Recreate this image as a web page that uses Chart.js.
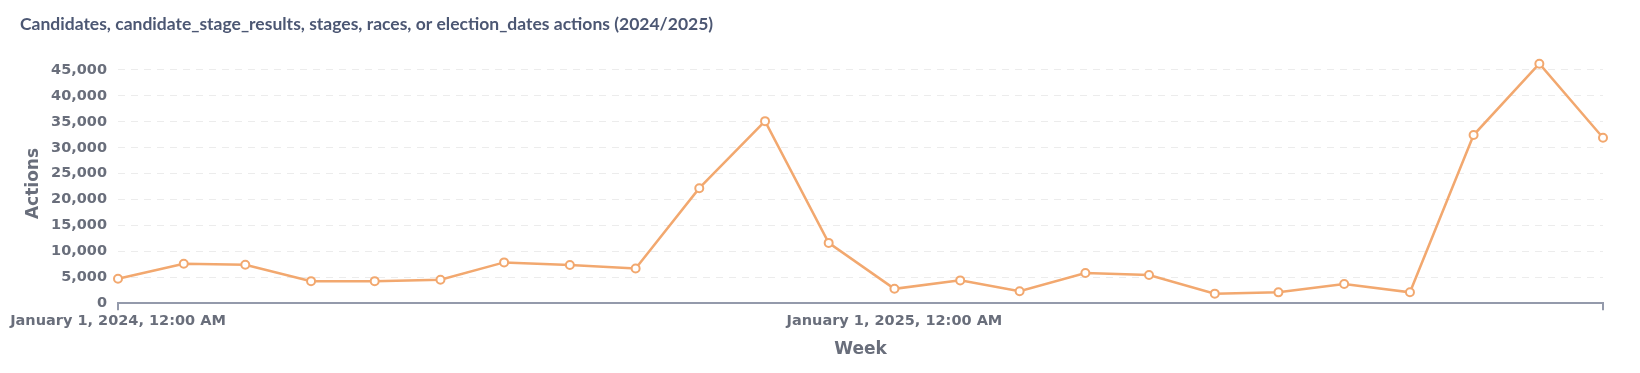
<!DOCTYPE html>
<html>
<head>
<meta charset="utf-8">
<script src="https://cdn.jsdelivr.net/npm/chart.js@4.4.1/dist/chart.umd.min.js"></script>
<style>
  html, body { margin: 0; padding: 0; background: #fff; }
  #wrap { width: 1640px; height: 373px; position: relative; }
</style>
</head>
<body>
<div id="wrap"><canvas id="chart"></canvas></div>
<script>
// one point per month, first of the month
const weeks = [
  '2024-01-01', '2024-02-01', '2024-03-01', '2024-04-01', '2024-05-01', '2024-06-01',
  '2024-07-01', '2024-08-01', '2024-09-01', '2024-10-01', '2024-11-01', '2024-12-01',
  '2025-01-01', '2025-02-01', '2025-03-01', '2025-04-01', '2025-05-01', '2025-06-01',
  '2025-07-01', '2025-08-01', '2025-09-01', '2025-10-01', '2025-11-01', '2025-12-01'
]
const actions = [
  4720, 7630, 7440, 4270, 4270, 4530,
  7890, 7380, 6700, 22200, 35130, 11650,
  2790, 4420, 2310, 5830, 5450, 1860,
  2110, 3720, 2120, 32450, 46210, 31940
]
const tickDates = ['2024-01-01', '2025-01-01']
const tickLabels = ['January 1, 2024, 12:00 AM', 'January 1, 2025, 12:00 AM']
const yTicks = [0, 5000, 10000, 15000, 20000, 25000, 30000, 35000, 40000, 45000]

const toTime = (d) => Date.parse(d + 'T00:00:00Z')
const xs = weeks.map(toTime)
const tickTimes = tickDates.map(toTime)

const axisColor = '#949AAB'
const textColor = '#696E7B'
const tickFont = {family: 'DejaVu Sans', weight: 'bold', size: 14.5}
const axisTitleFont = {family: 'DejaVu Sans', weight: 'bold', size: 17}

const ctx = document.getElementById('chart').getContext('2d')

new Chart(ctx, {
    type: 'line',
    data: {
        datasets: [
            {
                label: 'Actions',
                data: xs.map((x, i) => ({x: x, y: actions[i]})),
                borderColor: '#F2A86F',
                backgroundColor: '#ffffff',
                borderWidth: 2.5,
                pointRadius: 4,
                pointBorderWidth: 2,
                pointBackgroundColor: '#ffffff',
                pointBorderColor: '#F2A86F',
                tension: 0,
                clip: false
            }
        ]
    },
    options: {
        responsive: true,
        maintainAspectRatio: false,
        animation: false,
        layout: {padding: {left: 20, right: 37, top: 0, bottom: 0}},
        plugins: {
            legend: {display: false},
            tooltip: {enabled: false},
            title: {
                display: true,
                text: 'Candidates, candidate_stage_results, stages, races, or election_dates actions (2024/2025)',
                align: 'start',
                color: '#4C5773',
                font: {family: 'Lato', weight: 'bold', size: 17.5},
                padding: {top: 14, bottom: 28.7}
            }
        },
        scales: {
            x: {
                type: 'linear',
                min: xs[0],
                max: xs[xs.length - 1],
                afterBuildTicks: (scale) => {
                    scale.ticks = tickTimes.map(v => ({value: v})).concat([{value: xs[xs.length - 1]}])
                },
                afterFit: (scale) => { scale.height = 69.7 },
                ticks: {
                    autoSkip: false,
                    maxRotation: 0,
                    padding: 2,
                    color: textColor,
                    font: tickFont,
                    callback: (value) => {
                        const i = tickTimes.indexOf(value)
                        return i >= 0 ? tickLabels[i] : ''
                    }
                },
                grid: {
                    drawOnChartArea: false,
                    drawTicks: true,
                    tickLength: 7,
                    lineWidth: 2,
                    color: (c) => (c.index === 0 || c.index === 2) ? axisColor : 'rgba(0,0,0,0)'
                },
                border: {display: true, color: axisColor, width: 2},
                title: {
                    display: true,
                    text: 'Week',
                    color: textColor,
                    font: axisTitleFont,
                    padding: {top: 4, bottom: 13}
                }
            },
            y: {
                min: 0,
                max: Math.max(...actions),
                afterBuildTicks: (scale) => {
                    scale.ticks = yTicks.map(v => ({value: v}))
                },
                afterFit: (scale) => { scale.width = 98 },
                ticks: {
                    padding: 11,
                    color: textColor,
                    font: tickFont,
                    callback: (value) => value.toLocaleString('en-US')
                },
                grid: {
                    drawTicks: false,
                    color: (c) => c.tick.value === 0 ? 'rgba(0,0,0,0)' : '#ECECEC',
                    lineWidth: 1
                },
                border: {display: false, dash: [7, 6]},
                title: {
                    display: true,
                    text: 'Actions',
                    color: textColor,
                    font: axisTitleFont,
                    padding: {top: 3, bottom: 0}
                }
            }
        }
    }
})
</script>
</body>
</html>
